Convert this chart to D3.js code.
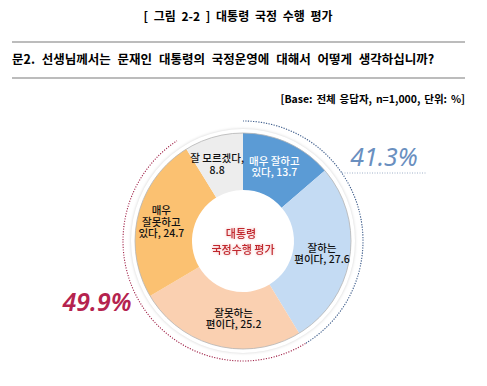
<html>
<head>
  <meta charset="utf-8">
  <script src="https://d3js.org/d3.v7.min.js"></script>
  <style>
    body { margin: 0; background: #fff; }
    text { font-family: "Noto Sans CJK KR", sans-serif; }
  </style>
</head>
<body>
  <svg id="chart" width="487" height="386"></svg>
  <script>
    // data
    let categories = ["매우 잘하고 있다", "잘하는 편이다", "잘못하는 편이다", "매우 잘못하고 있다", "잘 모르겠다"];
    let values = [13.7, 27.6, 25.2, 24.7, 8.8];
    let labelLines = [
      ["매우 잘하고", "있다, 13.7"],
      ["잘하는", "편이다, 27.6"],
      ["잘못하는", "편이다, 25.2"],
      ["매우", "잘못하고", "있다, 24.7"],
      ["잘 모르겠다,", "8.8"]
    ];
    let positiveTotal = "41.3%";
    let negativeTotal = "49.9%";

    let colors = ["#5b9bd5", "#c4dbf3", "#fad0b1", "#fbc171", "#ededed"];
    let labelColors = ["#fff", "#111", "#111", "#111", "#111"];

    let svg = d3.select("#chart");

    // header
    svg.append("text")
      .attr("x", 238).attr("y", 21)
      .attr("text-anchor", "middle")
      .style("font-size", "12px").style("font-weight", "bold")
      .style("word-spacing", "3px")
      .text("[ 그림 2-2 ] 대통령 국정 수행 평가");

    svg.append("line").attr("x1", 12).attr("x2", 465).attr("y1", 42).attr("y2", 42)
      .style("stroke", "#a6a6a6").style("stroke-width", 1.5);

    svg.append("text")
      .attr("x", 12).attr("y", 64)
      .style("font-size", "12.5px").style("font-weight", "bold")
      .style("word-spacing", "4px")
      .text("문2. 선생님께서는 문재인 대통령의 국정운영에 대해서 어떻게 생각하십니까?");

    svg.append("line").attr("x1", 12).attr("x2", 465).attr("y1", 78).attr("y2", 78)
      .style("stroke", "#a6a6a6").style("stroke-width", 1.5);

    svg.append("text")
      .attr("x", 465).attr("y", 103)
      .attr("text-anchor", "end")
      .style("font-size", "10.5px").style("font-weight", "bold")
      .style("word-spacing", "1.5px")
      .text("[Base: 전체 응답자, n=1,000, 단위: %]");

    // donut
    let cx = 243, cy = 241;
    let outerR = 108, innerR = 51;
    let g = svg.append("g").attr("transform", `translate(${cx},${cy})`);

    let pie = d3.pie().sort(null).value(d => d);
    let arcs = pie(values);
    let arc = d3.arc().innerRadius(innerR).outerRadius(outerR);
    let labelArc = d3.arc().innerRadius(80).outerRadius(80);

    g.append("circle").attr("r", outerR + 4).style("fill", "#fff")
      .style("filter", "drop-shadow(0px 0px 1.5px rgba(0,0,0,0.18))");

    g.selectAll("path.slice")
      .data(arcs)
      .join("path")
      .attr("class", "slice")
      .attr("d", arc)
      .style("fill", (d, i) => colors[i]);

    g.append("circle").attr("r", outerR).style("fill", "none")
      .style("stroke", "#b4b4b4").style("stroke-width", 0.8);

    // slice labels
    let nudge = [[-2, -2], [0, 0], [10, 0], [-4, 0], [-4, 0]];
    arcs.forEach((d, i) => {
      let [x, y] = labelArc.centroid(d);
      let lines = labelLines[i];
      let lh = 11.5;
      let t = g.append("text")
        .attr("text-anchor", "middle")
        .style("font-size", "10.5px")
        .style("font-weight", "500")
        .style("fill", labelColors[i]);
      lines.forEach((s, k) => {
        t.append("tspan")
          .attr("x", x + nudge[i][0])
          .attr("y", y + nudge[i][1] + (k - (lines.length - 1) / 2) * lh + 4)
          .text(s);
      });
    });

    // center title
    let center = g.append("text").attr("text-anchor", "middle")
      .style("font-size", "11px").style("font-weight", "500").style("fill", "#c0272d")
      .style("filter", "drop-shadow(0px 0px 1.5px rgba(230,120,120,0.6))");
    center.append("tspan").attr("x", -2).attr("y", -3).text("대통령");
    center.append("tspan").attr("x", 0).attr("y", 13).text("국정수행 평가");

    // dotted summary arcs
    let posEnd = arcs[1].endAngle;
    let negEnd = arcs[3].endAngle;
    let guide = d3.arc().innerRadius(120).outerRadius(120);

    g.append("path")
      .attr("d", guide({ startAngle: 0, endAngle: posEnd }))
      .style("fill", "none").style("stroke", "#44628f")
      .style("stroke-width", 1.1).style("stroke-dasharray", "1,1.6");

    g.append("path")
      .attr("d", guide({ startAngle: posEnd, endAngle: negEnd - 0.03 }))
      .style("fill", "none").style("stroke", "#a3284d")
      .style("stroke-width", 1.1).style("stroke-dasharray", "1,1.6");

    // totals
    svg.append("text")
      .attr("x", 384).attr("y", 166)
      .attr("text-anchor", "middle")
      .style("font-family", "'Noto Sans', sans-serif")
      .style("font-size", "25px").style("font-style", "italic")
      .style("fill", "#6a8fbf")
      .text(positiveTotal);

    svg.append("line").attr("x1", 342).attr("x2", 427).attr("y1", 173).attr("y2", 173)
      .style("stroke", "#9fb0c8").style("stroke-width", 1).style("stroke-dasharray", "1,1.5");

    svg.append("text")
      .attr("x", 97).attr("y", 311)
      .attr("text-anchor", "middle")
      .style("font-family", "'Noto Sans', sans-serif")
      .style("font-size", "25px").style("font-style", "italic").style("font-weight", "600")
      .style("fill", "#b5234e")
      .text(negativeTotal);
  </script>
</body>
</html>
